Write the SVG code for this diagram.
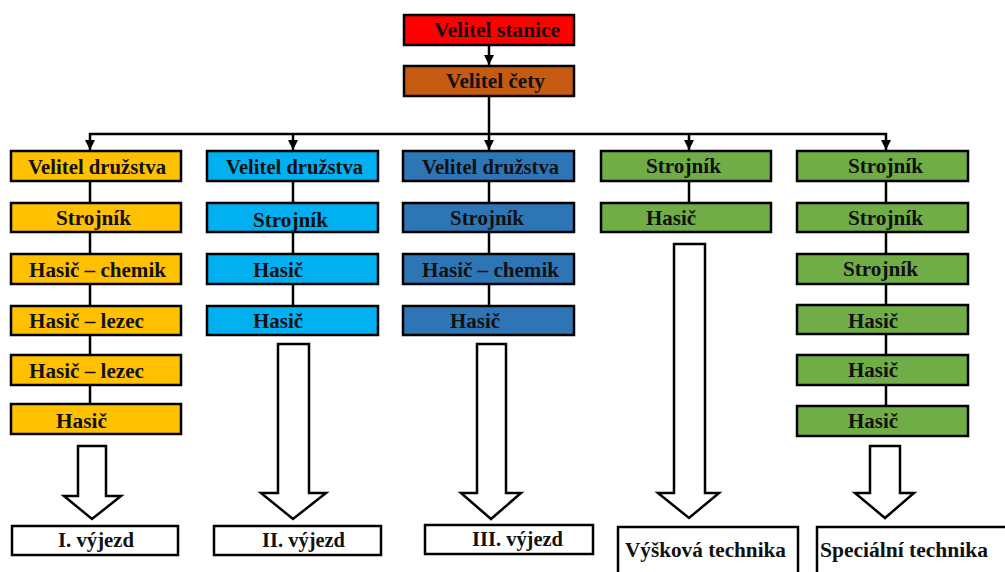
<svg xmlns="http://www.w3.org/2000/svg" width="1005" height="572" viewBox="0 0 1005 572">
<style>
.b{stroke:#000;stroke-width:2.5}
.t{font-family:"Liberation Serif","Times New Roman",serif;font-weight:bold;font-size:20px;fill:#111}
.c{stroke:#000;stroke-width:2.5;fill:none}
.ba{fill:#fff;stroke:#000;stroke-width:2.5;stroke-linejoin:miter}
.red{fill:#FF0000}.brn{fill:#C55A11}.yel{fill:#FFC000}.lb{fill:#00B0F0}.blu{fill:#2E75B6}.grn{fill:#70AD47}.wh{fill:#fff}
</style>
<defs>
<marker id="ah" viewBox="0 0 10 10" refX="10" refY="5" markerWidth="4" markerHeight="4" markerUnits="strokeWidth" orient="auto">
<path d="M0,0 L10,5 L0,10 z" fill="#000"/>
</marker>
</defs>
<rect width="1005" height="572" fill="#fff"/>
<g id="connectors">
<line class="c" x1="489" y1="45" x2="489" y2="65" marker-end="url(#ah)"/>
<line class="c" x1="489" y1="96" x2="489" y2="134"/>
<line class="c" x1="89" y1="134" x2="887" y2="134"/>
<line class="c" x1="90" y1="133" x2="90" y2="150" marker-end="url(#ah)"/>
<line class="c" x1="293" y1="134" x2="293" y2="150" marker-end="url(#ah)"/>
<line class="c" x1="489" y1="134" x2="489" y2="150" marker-end="url(#ah)"/>
<line class="c" x1="689" y1="134" x2="689" y2="150" marker-end="url(#ah)"/>
<line class="c" x1="886" y1="133" x2="886" y2="150" marker-end="url(#ah)"/>
<line class="c" x1="90" y1="181" x2="90" y2="404"/>
<line class="c" x1="293" y1="181" x2="293" y2="306"/>
<line class="c" x1="489" y1="181" x2="489" y2="306"/>
<line class="c" x1="689" y1="181" x2="689" y2="203"/>
<line class="c" x1="886" y1="181" x2="886" y2="406"/>
<polygon class="ba" points="78,446 106,446 106,496 121,496 92,519 64,496 78,496"/>
<polygon class="ba" points="278,344 309,344 309,493 326,493 293,519 261,493 278,493"/>
<polygon class="ba" points="477,344 506,344 506,493 521,493 491,519 461,493 477,493"/>
<polygon class="ba" points="674,244 705,244 705,493 719,493 689,518 658,493 674,493"/>
<polygon class="ba" points="870,446 900,446 900,493 914,493 885,518 855,493 870,493"/>
</g>
<g id="n-velitel-stanice"><rect class="b red" x="404" y="15" width="170" height="30"/><text class="t" x="434" y="37" textLength="126" lengthAdjust="spacingAndGlyphs">Velitel stanice</text></g>
<g id="n-velitel-cety"><rect class="b brn" x="404" y="66" width="170" height="30"/><text class="t" x="446" y="88" textLength="99" lengthAdjust="spacingAndGlyphs">Velitel čety</text></g>

<g id="n-c1-1"><rect class="b yel" x="11" y="151" width="170" height="30"/><text class="t" x="28" y="174" textLength="138" lengthAdjust="spacingAndGlyphs">Velitel družstva</text></g>
<g id="n-c1-2"><rect class="b yel" x="11" y="203" width="170" height="29"/><text class="t" x="56" y="225" textLength="75" lengthAdjust="spacingAndGlyphs">Strojník</text></g>
<g id="n-c1-3"><rect class="b yel" x="11" y="254" width="170" height="30"/><text class="t" x="29" y="277" textLength="137" lengthAdjust="spacingAndGlyphs">Hasič – chemik</text></g>
<g id="n-c1-4"><rect class="b yel" x="11" y="306" width="170" height="29"/><text class="t" x="29" y="328" textLength="115" lengthAdjust="spacingAndGlyphs">Hasič – lezec</text></g>
<g id="n-c1-5"><rect class="b yel" x="11" y="355" width="170" height="30"/><text class="t" x="29" y="378" textLength="115" lengthAdjust="spacingAndGlyphs">Hasič – lezec</text></g>
<g id="n-c1-6"><rect class="b yel" x="11" y="404" width="170" height="30"/><text class="t" x="56" y="428" textLength="51" lengthAdjust="spacingAndGlyphs">Hasič</text></g>

<g id="n-c2-1"><rect class="b lb" x="207" y="151" width="171" height="30"/><text class="t" x="226" y="174" textLength="137" lengthAdjust="spacingAndGlyphs">Velitel družstva</text></g>
<g id="n-c2-2"><rect class="b lb" x="207" y="203" width="171" height="29"/><text class="t" x="253" y="227" textLength="75" lengthAdjust="spacingAndGlyphs">Strojník</text></g>
<g id="n-c2-3"><rect class="b lb" x="207" y="254" width="171" height="30"/><text class="t" x="253" y="277" textLength="50" lengthAdjust="spacingAndGlyphs">Hasič</text></g>
<g id="n-c2-4"><rect class="b lb" x="207" y="306" width="171" height="29"/><text class="t" x="253" y="328" textLength="50" lengthAdjust="spacingAndGlyphs">Hasič</text></g>

<g id="n-c3-1"><rect class="b blu" x="403" y="151" width="171" height="30"/><text class="t" x="422" y="174" textLength="137" lengthAdjust="spacingAndGlyphs">Velitel družstva</text></g>
<g id="n-c3-2"><rect class="b blu" x="403" y="203" width="171" height="29"/><text class="t" x="450" y="225" textLength="74" lengthAdjust="spacingAndGlyphs">Strojník</text></g>
<g id="n-c3-3"><rect class="b blu" x="403" y="254" width="171" height="30"/><text class="t" x="422" y="277" textLength="137" lengthAdjust="spacingAndGlyphs">Hasič – chemik</text></g>
<g id="n-c3-4"><rect class="b blu" x="403" y="306" width="171" height="29"/><text class="t" x="450" y="328" textLength="50" lengthAdjust="spacingAndGlyphs">Hasič</text></g>

<g id="n-c4-1"><rect class="b grn" x="601" y="151" width="170" height="30"/><text class="t" x="646" y="173" textLength="75" lengthAdjust="spacingAndGlyphs">Strojník</text></g>
<g id="n-c4-2"><rect class="b grn" x="601" y="203" width="170" height="29"/><text class="t" x="646" y="225" textLength="50" lengthAdjust="spacingAndGlyphs">Hasič</text></g>

<g id="n-c5-1"><rect class="b grn" x="797" y="151" width="171" height="30"/><text class="t" x="848" y="173" textLength="75" lengthAdjust="spacingAndGlyphs">Strojník</text></g>
<g id="n-c5-2"><rect class="b grn" x="797" y="203" width="171" height="29"/><text class="t" x="848" y="225" textLength="75" lengthAdjust="spacingAndGlyphs">Strojník</text></g>
<g id="n-c5-3"><rect class="b grn" x="797" y="254" width="171" height="30"/><text class="t" x="843" y="276" textLength="75" lengthAdjust="spacingAndGlyphs">Strojník</text></g>
<g id="n-c5-4"><rect class="b grn" x="797" y="305" width="171" height="29"/><text class="t" x="848" y="328" textLength="50" lengthAdjust="spacingAndGlyphs">Hasič</text></g>
<g id="n-c5-5"><rect class="b grn" x="797" y="355" width="171" height="30"/><text class="t" x="848" y="377" textLength="50" lengthAdjust="spacingAndGlyphs">Hasič</text></g>
<g id="n-c5-6"><rect class="b grn" x="797" y="406" width="171" height="30"/><text class="t" x="848" y="428" textLength="50" lengthAdjust="spacingAndGlyphs">Hasič</text></g>

<g id="n-vyjezd1"><rect class="b wh" x="12" y="526" width="166" height="29"/><text class="t" x="58" y="547" textLength="76" lengthAdjust="spacingAndGlyphs">I. výjezd</text></g>
<g id="n-vyjezd2"><rect class="b wh" x="214" y="526" width="167" height="29"/><text class="t" x="262" y="547" textLength="83" lengthAdjust="spacingAndGlyphs">II. výjezd</text></g>
<g id="n-vyjezd3"><rect class="b wh" x="425" y="525" width="168" height="29"/><text class="t" x="472" y="546" textLength="91" lengthAdjust="spacingAndGlyphs">III. výjezd</text></g>
<g id="n-vyskova"><rect class="b wh" x="618" y="527" width="180" height="50"/><text class="t" x="625" y="557" textLength="161" lengthAdjust="spacingAndGlyphs">Výšková  technika</text></g>
<g id="n-specialni"><rect class="b wh" x="817" y="527" width="200" height="50"/><text class="t" x="820" y="557" textLength="168" lengthAdjust="spacingAndGlyphs">Speciální technika</text></g>
</svg>
